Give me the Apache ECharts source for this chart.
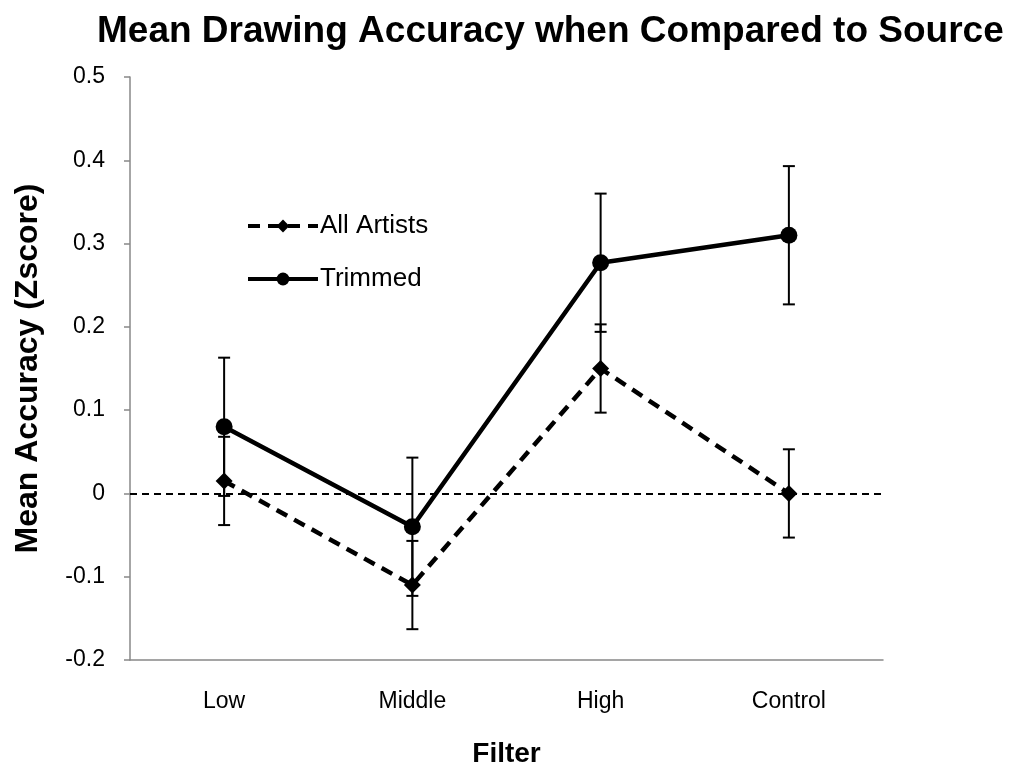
<!DOCTYPE html>
<html>
<head>
<meta charset="utf-8">
<script src="https://cdn.jsdelivr.net/npm/echarts@6/dist/echarts.min.js"></script>
<style>
  html, body { margin: 0; padding: 0; background: #fff; }
  #chart { width: 1016px; height: 771px; }
</style>
</head>
<body>
<div id="chart"></div>
<script>
const categories = ['Low', 'Middle', 'High', 'Control']

const allArtists = [0.015, -0.110, 0.150, 0.000]
const allArtistsErr = [0.053, 0.053, 0.053, 0.053]

const trimmed = [0.080, -0.040, 0.277, 0.310]
const trimmedErr = [0.083, 0.083, 0.083, 0.083]

const yTicks = { min: -0.2, max: 0.5, interval: 0.1 }

const FONT = '"Liberation Sans", Arial, sans-serif'

const errorData = (vals, errs) => vals.map((v, i) => [i, v - errs[i], v + errs[i]])

const renderError = (params, api) => {
  const x = api.value(0)
  const lo = api.coord([x, api.value(1)])
  const hi = api.coord([x, api.value(2)])
  const cap = 6
  const style = { stroke: '#000', lineWidth: 2 }
  return {
    type: 'group',
    children: [
      { type: 'line', shape: { x1: lo[0], y1: lo[1], x2: hi[0], y2: hi[1] }, style },
      { type: 'line', shape: { x1: lo[0] - cap, y1: lo[1], x2: lo[0] + cap, y2: lo[1] }, style },
      { type: 'line', shape: { x1: hi[0] - cap, y1: hi[1], x2: hi[0] + cap, y2: hi[1] }, style }
    ]
  }
}

const chart = echarts.init(document.getElementById('chart'), null, { renderer: 'canvas' })

chart.setOption({
  animation: false,
  textStyle: { fontFamily: FONT },
  title: {
    text: 'Mean Drawing Accuracy when Compared to Source',
    left: 92,
    top: 8,
    textStyle: { fontFamily: FONT, fontSize: 37, fontWeight: 'bold', color: '#000' }
  },
  legend: {
    orient: 'vertical',
    left: 241,
    top: 208,
    itemWidth: 70,
    itemHeight: 16,
    itemGap: 27,
    lineStyle: { width: 4 },
    textStyle: { fontFamily: FONT, fontSize: 26, color: '#000', padding: [0, 0, 0, -3] },
    data: ['All Artists', 'Trimmed']
  },
  grid: { left: 130, right: 133, top: 77, bottom: 111, outerBoundsMode: 'none' },
  xAxis: {
    type: 'category',
    data: categories,
    name: 'Filter',
    nameLocation: 'middle',
    nameGap: 80,
    nameTextStyle: { fontFamily: FONT, fontSize: 28, fontWeight: 'bold', color: '#000' },
    axisLine: { onZero: false, lineStyle: { color: '#888', width: 1.5 } },
    axisTick: { alignWithLabel: false, length: 7, lineStyle: { color: '#888', width: 1.5 } },
    axisLabel: { fontFamily: FONT, fontSize: 23, color: '#000', margin: 30 },
    splitLine: { show: false }
  },
  yAxis: {
    type: 'value',
    min: yTicks.min,
    max: yTicks.max,
    interval: yTicks.interval,
    name: 'Mean Accuracy (Zscore)',
    nameLocation: 'middle',
    nameGap: 86,
    nameTextStyle: { fontFamily: FONT, fontSize: 32, fontWeight: 'bold', color: '#000' },
    axisLine: { show: true, onZero: false, lineStyle: { color: '#888', width: 1.5 } },
    axisTick: { show: true, length: 6, lineStyle: { color: '#888', width: 1.5 } },
    axisLabel: { fontFamily: FONT, fontSize: 23, color: '#000', margin: 25 },
    splitLine: { show: false }
  },
  series: [
    {
      name: 'All Artists',
      type: 'line',
      data: allArtists,
      symbol: 'diamond',
      symbolSize: 17,
      itemStyle: { color: '#000' },
      lineStyle: { color: '#000', width: 4.5, type: [12, 8] },
      z: 3,
      markLine: {
        silent: true,
        symbol: 'none',
        label: { show: false },
        lineStyle: { color: '#000', width: 2, type: [7, 5] },
        data: [{ yAxis: 0 }]
      }
    },
    {
      name: 'Trimmed',
      type: 'line',
      data: trimmed,
      symbol: 'circle',
      symbolSize: 17,
      itemStyle: { color: '#000' },
      lineStyle: { color: '#000', width: 4.5 },
      z: 3
    },
    {
      type: 'custom',
      data: errorData(allArtists, allArtistsErr),
      renderItem: renderError,
      z: 4
    },
    {
      type: 'custom',
      data: errorData(trimmed, trimmedErr),
      renderItem: renderError,
      z: 4
    }
  ]
})
</script>
</body>
</html>
